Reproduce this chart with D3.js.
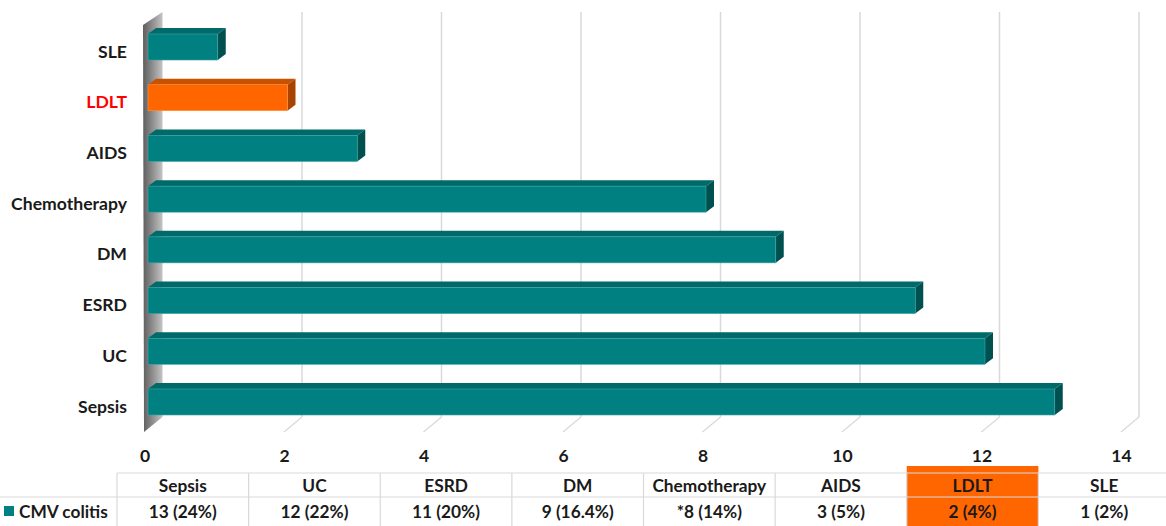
<!DOCTYPE html>
<html><head><meta charset="utf-8">
<script src="https://cdn.jsdelivr.net/npm/d3@7"></script>
<style>
html,body{margin:0;padding:0;background:#fff;}
svg{display:block;font-family:Lato,"Noto Sans",sans-serif;}
</style></head>
<body>
<svg id="c" width="1166" height="526"></svg>
<script>
// ---- data ----
const categories = ["Sepsis","UC","ESRD","DM","Chemotherapy","AIDS","LDLT","SLE"];
const values = [13,12,11,9,8,3,2,1];
const tableLabels = ["13 (24%)","12 (22%)","11 (20%)","9 (16.4%)","*8 (14%)","3 (5%)","2 (4%)","1 (2%)"];
const seriesName = "CMV colitis";
const highlight = "LDLT";
const xTicks = [0,2,4,6,8,10,12,14];

// ---- setup ----
const svg = d3.select("#c");
const teal = {front:"#008080", top:"#006a6a", side:"#005050", edge:"#3fa3a3"};
const orange = {front:"#ff6600", top:"#c85200", side:"#a84400", edge:"#ff9040"};

const xBack = d3.scaleLinear([0,14],[162.5,1139]);
const xFront = d3.scaleLinear([0,14],[144.5,1121]);
const xBar = d3.scaleLinear([0,14],[148,1124.5]);
const yTop = [...categories].reverse();
const y = d3.scaleBand(yTop,[21.65,427.35]).paddingInner(0.487).paddingOuter(0.2435);
const depth = {dx:8, dy:-6};
const backTop = 12, backBottom = 417, frontBottom = 432;

// gradient for side wall
const defs = svg.append("defs");
const g1 = defs.append("linearGradient").attr("id","wall").attr("x1","0").attr("x2","1").attr("y1","0").attr("y2","0");
g1.append("stop").attr("offset","0").attr("stop-color","#5e5e5e");
g1.append("stop").attr("offset","0.45").attr("stop-color","#8a8a8a");
g1.append("stop").attr("offset","1").attr("stop-color","#c4c4c4");

// back gridlines
svg.append("g").selectAll("line").data(xTicks.filter(d=>d>0)).join("line")
  .attr("x1",d=>xBack(d)).attr("x2",d=>xBack(d))
  .attr("y1",backTop).attr("y2",backBottom)
  .attr("stroke","#d9d9d9").attr("stroke-width",1.5);
// floor lines
svg.append("g").selectAll("line").data(xTicks.filter(d=>d>0)).join("line")
  .attr("x1",d=>xBack(d)).attr("x2",d=>xFront(d))
  .attr("y1",backBottom).attr("y2",frontBottom)
  .attr("stroke","#d9d9d9").attr("stroke-width",1.2);

// side wall
svg.append("path")
  .attr("d",`M${xFront(0)-1.5},25 L${xBack(0)},${backTop} L${xBack(0)},${backBottom} L${xFront(0)-0.5},${frontBottom} Z`)
  .attr("fill","url(#wall)");

// bars
const data = categories.map((c,i)=>({c,v:values[i]}));
const bars = svg.append("g").selectAll("g").data(data).join("g");
bars.each(function(d){
  const g = d3.select(this);
  const col = d.c===highlight?orange:teal;
  const x0 = xBar(0), x1 = xBar(d.v), y0 = y(d.c), y1 = y(d.c)+y.bandwidth();
  const {dx,dy} = depth;
  g.append("path").attr("d",`M${x0},${y0} L${x0+dx},${y0+dy} L${x1+dx},${y0+dy} L${x1},${y0} Z`).attr("fill",col.top);
  g.append("path").attr("d",`M${x1},${y0} L${x1+dx},${y0+dy} L${x1+dx},${y1+dy} L${x1},${y1} Z`).attr("fill",col.side);
  g.append("rect").attr("x",x0).attr("y",y0).attr("width",x1-x0).attr("height",y1-y0).attr("fill",col.front)
    .attr("stroke",col.edge).attr("stroke-width",0.6);
});

// category axis
const ya = svg.append("g").attr("transform","translate(132,5)")
  .call(d3.axisLeft(y).tickSize(0).tickPadding(5));
ya.select(".domain").remove();
ya.selectAll("text").attr("font-size",17.6).attr("font-weight","bold")
  .attr("font-family","Lato").attr("fill",d=>d===highlight?"#ff0000":"#1a1a1a");

// value axis
const xa = svg.append("g").attr("transform","translate(0,450)")
  .call(d3.axisBottom(xFront).tickValues(xTicks).tickSize(0).tickPadding(0));
xa.select(".domain").remove();
xa.selectAll("text").attr("font-size",17.5).attr("font-weight","bold")
  .attr("font-family","Lato").attr("fill","#1a1a1a");

// data table
const tx = d3.scaleBand(categories,[117,1170]);
svg.append("rect").attr("x",tx(highlight)).attr("y",466).attr("width",tx.bandwidth()).attr("height",60).attr("fill","#ff6600");
const tl = svg.append("g").attr("stroke","#d9d9d9").attr("stroke-width",1.2);
tl.append("line").attr("x1",117).attr("x2",1166).attr("y1",473).attr("y2",473);
tl.append("line").attr("x1",0).attr("x2",1166).attr("y1",497).attr("y2",497);
tl.selectAll(".v").data(categories).join("line").attr("class","v")
  .attr("x1",d=>tx(d)).attr("x2",d=>tx(d)).attr("y1",473).attr("y2",526);
const tt = svg.append("g").attr("font-weight","bold").attr("font-size",17.3).attr("fill","#1a1a1a").attr("text-anchor","middle");
tt.selectAll(".h").data(categories).join("text").attr("class","h")
  .attr("x",d=>tx(d)+tx.bandwidth()/2).attr("y",492).text(d=>d);
tt.selectAll(".val").data(tableLabels).join("text").attr("class","val")
  .attr("x",(d,i)=>tx(categories[i])+tx.bandwidth()/2).attr("y",518).text(d=>d);
// legend key
svg.append("rect").attr("x",4).attr("y",506).attr("width",10).attr("height",10).attr("fill",teal.front);
svg.append("text").attr("x",19).attr("y",518).attr("font-weight","bold").attr("font-size",17.3).attr("fill","#1a1a1a").text(seriesName);
</script>
</body></html>
